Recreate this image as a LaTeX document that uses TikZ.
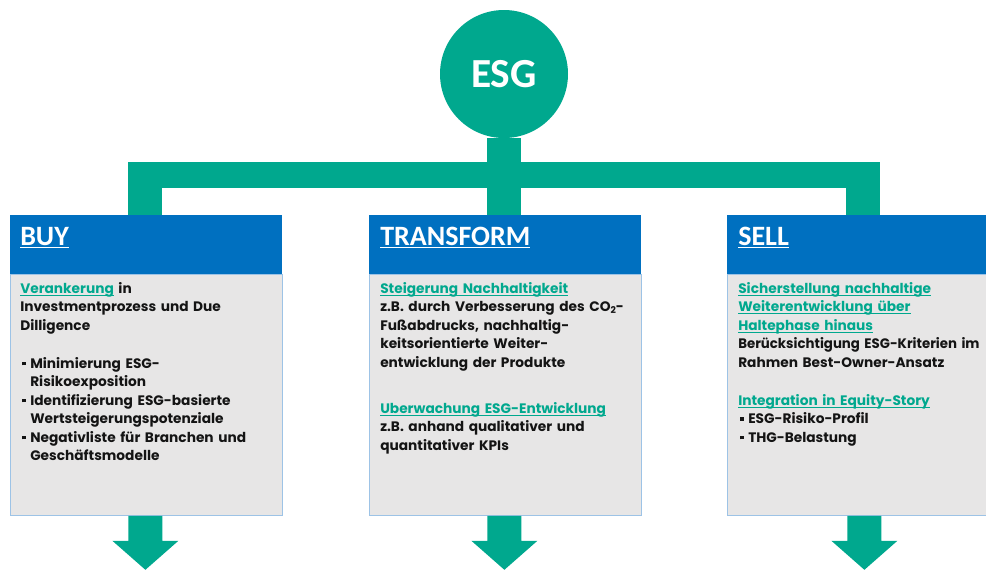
\documentclass[tikz,border=0pt]{standalone}
\usepackage{fontspec}
\setmainfont{Poppins}
\newfontfamily\hfont{Carlito}
\usetikzlibrary{calc}
\definecolor{esggreen}{RGB}{0,168,142}
\definecolor{hblue}{RGB}{0,112,192}
\definecolor{bodygray}{RGB}{231,230,230}
\definecolor{bordblue}{RGB}{157,195,230}
\definecolor{txt}{RGB}{20,20,20}
\newcommand{\gl}[1]{\leavevmode{\color{esggreen}\setbox0\hbox{#1}\rlap{\rule[-1.9pt]{\wd0}{0.75pt}}\box0}}
\newcommand{\hl}[1]{\leavevmode{\setbox0\hbox{#1}\rlap{\rule[-2.6pt]{\wd0}{1.3pt}}\box0}}
\newcommand{\bul}{\makebox[7.5pt][l]{\hspace{1.5pt}\rule[0.2em]{0.26em}{0.26em}}}
\newcommand{\ind}{\hspace*{7.5pt}}
\begin{document}
\begin{tikzpicture}[x=0.75pt,y=-0.75pt,
  hdr/.style={fill=hblue, draw=none, minimum width=204pt, minimum height=44.25pt, inner sep=0, anchor=north west},
  bodybox/.style={fill=bodygray, draw=bordblue, line width=0.6pt, minimum width=204pt, minimum height=180.75pt, inner sep=0, anchor=north west},
  htext/.style={anchor=base west, inner sep=0, text=white, font=\hfont\bfseries\fontsize{21}{25}\selectfont},
  ptext/.style={anchor=base west, inner sep=0, text width=200pt, align=left, text=txt, font=\bfseries\fontsize{10.3}{13.9}\selectfont},
  vbar/.style={draw=esggreen, line width=25pt},
  hbar/.style={draw=esggreen, line width=19.5pt},
  downarrow/.style={fill=esggreen}
]
\useasboundingbox (0,0) rectangle (986,569);

% ESG circle
\node[circle, fill=esggreen, minimum size=96pt, inner sep=0, text=white,
      font=\hfont\bfseries\fontsize{31}{36}\selectfont] (esg) at (504,74) {ESG};

% boxes
\node[hdr] (buyh) at (10,215) {};
\node[bodybox] (buyb) at (10,274) {};
\node[hdr] (transh) at (369,215) {};
\node[bodybox] (transb) at (369,274) {};
\node[hdr] (sellh) at (727,215) {};
\node[bodybox] (sellb) at (727,274) {};

% connectors
\coordinate (bl) at (128,175);
\coordinate (br) at (880,175);
\coordinate (jl) at (145,162);
\coordinate (jr) at (863,162);
\draw[hbar] (bl) -- (br);
\draw[vbar] (esg.south) -- (esg.south |- transh.north);
\draw[vbar] (jl) -- (jl |- buyh.north);
\draw[vbar] (jr) -- (jr |- sellh.north);

% down arrows
\foreach \b/\dx in {buyb/-1, transb/-1, sellb/1}{
  \fill[downarrow] ($(\b.south)+(\dx,0)+(-17,0)$) -- ++(0,25) -- ++(-16,0) -- ++(33,29)
     -- ++(33,-29) -- ++(-16,0) -- ++(0,-25) -- cycle;
}

% header texts
\node[htext] (buyt) at (20,245) {\hl{BUY}};
\node[htext] (transt) at (380,245) {\hl{TRANSFORM}};
\node[htext] (sellt) at (738,245) {\hl{SELL}};

% BUY body
\node[ptext] (buy1) at (20,293) {\gl{Verankerung} in\\Investmentprozess und Due\\Dilligence};
\node[ptext] (buy2) at (20,368) {\bul Minimierung ESG-\\\ind Risikoexposition\\\bul Identifizierung ESG-basierte\\\ind Wertsteigerungspotenziale\\\bul Negativliste für Branchen und\\\ind Geschäftsmodelle};

% TRANSFORM body
\node[ptext] (tr1) at (380,293) {\gl{Steigerung Nachhaltigkeit}\\z.B. durch Verbesserung des CO\raisebox{-0.25ex}{\scriptsize 2}-\\Fußabdrucks, nachhaltig-\\keitsorientierte Weiter-\\entwicklung der Produkte};
\node[ptext] (tr2) at (380,413) {\gl{Uberwachung ESG-Entwicklung}\\z.B. anhand qualitativer und\\quantitativer KPIs};

% SELL body
\node[ptext] (se1) at (738,293) {\gl{Sicherstellung nachhaltige}\\\gl{Weiterentwicklung über}\\\gl{Haltephase hinaus}\\\scalebox{0.97}[1]{Berücksichtigung ESG-Kriterien im}\\Rahmen Best-Owner-Ansatz};
\node[ptext] (se2) at (738,405) {\gl{Integration in Equity-Story}\\\bul ESG-Risiko-Profil\\\bul THG-Belastung};
\end{tikzpicture}
\end{document}
